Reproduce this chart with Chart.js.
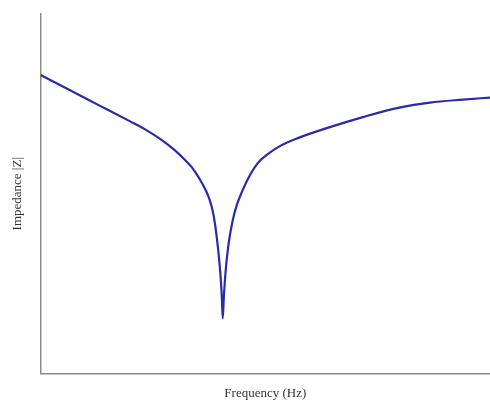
<!DOCTYPE html>
<html>
<head>
<meta charset="utf-8">
<title>Impedance vs frequency</title>
<script src="https://cdn.jsdelivr.net/npm/chart.js@4.4.1/dist/chart.umd.min.js"></script>
<style>
  html, body { margin: 0; padding: 0; background: #fff; }
  canvas { display: block; }
</style>
</head>
<body>
<canvas id="myChart" width="490" height="405"></canvas>
<script>
// frequency sweep (arbitrary units, 0-100 across the axis)
var frequency = [0, 6.46, 13.14, 19.82, 23.16, 26.50, 29.84, 32.52, 33.63, 35.41, 36.75, 37.64,
                 38.31, 38.75, 39.20, 39.64, 39.98, 40.31,
                 40.53,
                 40.76, 40.98, 41.31, 41.65, 42.09, 42.76, 43.65, 44.77, 46.10,
                 48.33, 50.56, 53.23, 57.24, 64.37, 71.71, 79.29, 86.64, 93.99, 100];
// |Z| magnitude (arbitrary units, 0-100 up the axis)
var impedance = [83.01, 78.83, 74.51, 70.19, 67.97, 65.32, 62.12, 58.91, 57.38, 54.04, 50.97, 48.19,
                 45.13, 42.06, 37.88, 32.87, 28.13, 21.73,
                 15.32,
                 20.89, 25.35, 30.36, 34.26, 38.16, 42.62, 46.80, 50.42, 54.04,
                 58.50, 61.00, 63.23, 65.46, 68.52, 71.31, 73.82, 75.35, 76.18, 76.74];

var points = frequency.map(function (f, i) { return { x: f, y: impedance[i] }; });

var axisFont = { family: '"Liberation Serif", "Times New Roman", serif', size: 13 };

var ctx = document.getElementById('myChart').getContext('2d');
var myChart = new Chart(ctx, {
    type: 'line',
    data: {
        datasets: [{
            label: 'Impedance |Z|',
            data: points,
            borderColor: 'rgb(42, 42, 172)',
            borderWidth: 2.2,
            pointRadius: 0,
            cubicInterpolationMode: 'monotone',
            fill: false
        }]
    },
    options: {
        responsive: false,
        animation: false,
        layout: { padding: { top: 14, right: 0, bottom: 0, left: 0 } },
        plugins: {
            legend: { display: false },
            tooltip: { enabled: false }
        },
        scales: {
            x: {
                type: 'linear',
                min: 0,
                max: 100,
                grid: { display: false, drawTicks: false },
                ticks: { display: false },
                border: { display: true, color: '#8a8a8a', width: 1.5 },
                title: {
                    display: true,
                    text: 'Frequency (Hz)',
                    color: '#333',
                    font: axisFont,
                    padding: { top: 12, bottom: 4 }
                }
            },
            y: {
                min: 0,
                max: 100,
                grid: { display: false, drawTicks: false },
                ticks: { display: false },
                border: { display: true, color: '#8a8a8a', width: 1.5 },
                title: {
                    display: true,
                    text: 'Impedance |Z|',
                    color: '#333',
                    font: axisFont,
                    padding: { top: 10, bottom: 15 }
                }
            }
        }
    }
});
</script>
</body>
</html>
